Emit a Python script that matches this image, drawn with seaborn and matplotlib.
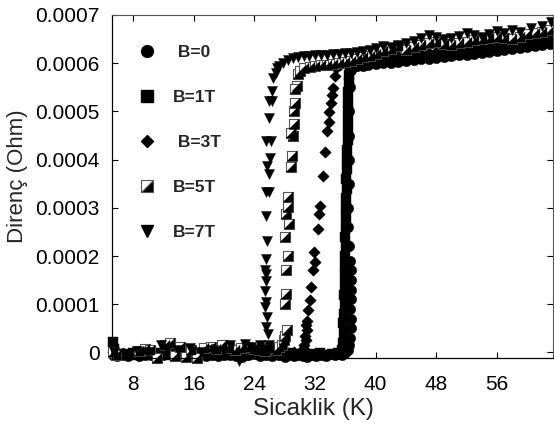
import numpy as np
import pandas as pd
import seaborn as sns
import matplotlib
matplotlib.use("Agg")
import matplotlib.pyplot as plt
from matplotlib.lines import Line2D
from matplotlib.markers import MarkerStyle
from matplotlib.transforms import Affine2D

# ---------------- data (T in K, R in units of 1e-4 Ohm) ----------------
T_b0 = [5.4, 5.9, 6.6, 7.3, 8.0, 8.8, 9.6, 10.4, 11.2, 12.0, 12.8, 13.6, 14.4, 15.2, 16.0,
        16.8, 17.6, 18.4, 19.2, 20.0, 20.8, 21.6, 22.4, 23.2, 24.0, 24.8, 25.6, 26.4, 27.2,
        28.0, 28.6, 29.2, 29.8, 30.4, 31.0, 31.6, 32.2, 32.8, 33.4, 34.0, 34.6, 35.1, 35.6, 36.0,
        36.3, 36.5, 36.6, 36.7, 36.7, 36.6, 36.7, 36.8, 36.75, 36.7, 36.6, 36.5, 36.4, 36.4,
        36.45, 36.5, 36.5, 36.55, 36.6, 36.7, 37.0,
        37.6, 38.3, 39.0, 40.0, 41.0, 42.0, 43.0, 44.0, 45.0, 46.0, 47.0, 48.0, 49.0, 50.0,
        51.0, 52.0, 53.0, 54.0, 55.0, 56.0, 57.0, 58.0, 59.0, 60.0, 61.0, 62.0, 63.0]
R_b0 = [-0.06, -0.08, -0.05, -0.07, -0.04, -0.08, -0.06, -0.05, -0.08, -0.06, -0.04, -0.07, -0.05, -0.08, -0.06,
        -0.04, -0.07, -0.05, -0.08, -0.06, -0.05, -0.07, -0.09, -0.06, -0.04, -0.08, -0.06, -0.07, -0.05,
        -0.09, -0.06, -0.08, -0.05, -0.07, -0.09, -0.06, -0.08, -0.05, -0.07, -0.04, -0.06, -0.03, -0.05, -0.02,
        0.05, 0.15, 0.3, 0.5, 0.7, 0.9, 1.1, 1.3, 1.5, 1.7, 1.9, 2.2, 2.6, 3.0,
        3.5, 4.0, 4.5, 5.0, 5.5, 5.85, 5.92,
        5.94, 5.95, 5.97, 5.98, 6.00, 6.01, 6.03, 6.04, 6.06, 6.08, 6.09, 6.11, 6.13, 6.14,
        6.16, 6.18, 6.19, 6.21, 6.23, 6.25, 6.27, 6.29, 6.31, 6.33, 6.35, 6.37, 6.39]

T_b1 = [5.3, 5.5, 6.0, 6.6, 7.3, 8.0, 8.7, 9.5, 10.3, 11.1, 11.9, 12.7, 13.5, 14.3, 15.1, 15.9,
        16.7, 17.5, 18.3, 19.1, 19.9, 20.7, 21.5, 22.3, 23.1, 23.9, 24.7, 25.5, 26.3, 27.1, 27.9,
        28.7, 29.5, 30.3, 31.1, 31.9, 32.7, 33.5, 34.3, 35.0,
        35.6, 35.7, 35.8, 35.75, 35.8, 35.9, 35.85, 35.9, 36.0, 35.95, 36.0, 36.05, 36.0, 36.1,
        36.1, 36.05, 36.15, 36.2, 36.15, 36.2, 36.25, 36.2, 36.3, 36.3, 36.35, 36.4, 36.35, 36.4,
        36.45, 36.5, 36.6, 36.8, 37.1,
        37.6, 38.3, 39.0, 40.0, 41.0, 42.0, 43.0, 44.0, 45.0, 46.0, 47.0, 48.0, 49.0, 50.0,
        51.0, 52.0, 53.0, 54.0, 55.0, 56.0, 57.0, 58.0, 59.0, 60.0, 61.0, 62.0, 63.0]
R_b1 = [0.22, 0.08, -0.04, -0.03, -0.06, -0.02, -0.05, -0.03, -0.06, -0.02, -0.04, -0.06, -0.03, -0.05, -0.02, -0.06,
        -0.04, -0.03, -0.05, -0.02, -0.06, -0.04, -0.03, -0.05, -0.06, -0.02, -0.04, -0.05, -0.03, -0.06, -0.04,
        -0.02, -0.05, -0.03, -0.06, -0.04, -0.02, -0.05, -0.03, -0.01,
        0.05, 0.2, 0.4, 0.6, 0.8, 1.0, 1.2, 1.4, 1.6, 1.8, 2.0, 2.2, 2.4, 2.6,
        2.8, 3.0, 3.2, 3.4, 3.6, 3.8, 4.0, 4.2, 4.4, 4.6, 4.8, 5.0, 5.2, 5.4,
        5.6, 5.75, 5.85, 5.92, 5.95,
        5.97, 5.99, 6.01, 6.02, 6.04, 6.05, 6.07, 6.08, 6.10, 6.12, 6.13, 6.15, 6.17, 6.18,
        6.20, 6.22, 6.23, 6.25, 6.27, 6.29, 6.31, 6.33, 6.35, 6.37, 6.39, 6.41, 6.43]

T_b3 = [5.4, 6.7, 8.0, 9.5, 11.0, 12.5, 14.0, 15.5, 17.0, 18.5, 20.0, 21.5, 23.0, 24.5, 26.0,
        27.5, 28.5, 29.3, 30.0,
        30.6, 30.7, 30.6, 30.8, 30.7, 30.9, 30.8, 31.0, 31.1, 31.3, 31.5, 31.8, 32.0, 31.9, 32.4,
        32.5, 32.7, 33.0, 33.3, 33.6, 33.8, 33.8, 34.1, 34.2, 34.4, 34.6, 34.8,
        35.3, 36.0, 36.8, 37.6, 38.4, 39.2, 40.0, 41.0, 42.0, 43.0, 44.0, 45.0, 46.0, 47.0, 48.0,
        49.0, 50.0, 51.0, 52.0, 53.0, 54.0, 55.0, 56.0, 57.0, 58.0, 59.0, 60.0, 61.0, 62.0, 63.0]
R_b3 = [0.0, -0.02, 0.0, 0.02, -0.02, 0.0, 0.05, 0.0, 0.03, 0.1, 0.02, 0.05, 0.0, 0.05, 0.02,
        0.0, -0.02, 0.0, 0.0,
        -0.05, 0.05, 0.15, 0.25, 0.35, 0.46, 0.56, 0.66, 0.87, 1.08, 1.35, 1.70, 1.87, 2.08, 2.56,
        2.87, 3.04, 3.66, 4.15, 4.60, 4.77, 4.98, 5.18, 5.35, 5.49, 5.73, 5.90,
        5.97, 6.01, 6.03, 6.05, 6.07, 6.08, 6.10, 6.12, 6.13, 6.15, 6.16, 6.18, 6.20, 6.21, 6.23,
        6.25, 6.26, 6.28, 6.30, 6.31, 6.33, 6.35, 6.37, 6.39, 6.41, 6.43, 6.45, 6.47, 6.49, 6.51]

T_b5 = [5.3, 5.8, 8.8, 9.6, 10.2, 11.1, 12.2, 12.9, 13.5, 14.2, 15.0, 15.6, 16.5, 17.4, 18.3,
        19.0, 19.8, 20.6, 21.5, 22.3, 23.0, 23.8, 24.6, 25.4, 26.0, 26.8, 27.3,
        27.6, 27.9, 28.1, 28.3, 28.1, 28.2, 28.2, 28.4, 28.1, 28.6, 28.2, 28.5, 28.4, 28.9,
        29.0, 29.1, 28.8, 29.2, 29.3, 29.4, 29.6, 29.4, 29.8, 30.0,
        30.6, 31.3, 32.0, 32.8, 33.6, 34.4, 35.2, 36.0, 36.8, 37.6, 38.4, 39.2, 40.0, 41.0, 42.0,
        43.0, 44.0, 45.0, 46.0, 47.0, 48.0, 49.0, 50.0, 51.0, 52.0, 53.0, 54.0, 55.0, 56.0, 57.0,
        58.0, 59.0, 60.0, 61.0, 62.0, 63.0]
R_b5 = [0.0, -0.05, 0.02, 0.08, 0.05, -0.12, 0.15, 0.2, -0.08, 0.12, -0.1, 0.05, -0.12, 0.1, 0.12,
        0.08, 0.15, 0.1, 0.05, 0.1, 0.12, 0.08, 0.05, 0.02, 0.1, 0.05, 0.12,
        0.15, 0.25, 0.35, 0.46, 1.01, 1.22, 1.70, 2.01, 2.39, 2.66, 2.87, 3.01, 3.22, 3.84,
        4.08, 4.49, 4.56, 4.73, 5.01, 5.18, 5.53, 5.46, 5.77, 5.84,
        5.90, 5.93, 5.95, 5.96, 5.97, 5.98, 6.00, 6.02, 6.05, 6.08, 6.12, 6.15, 6.20, 6.25, 6.30,
        6.35, 6.28, 6.33, 6.38, 6.42, 6.45, 6.40, 6.38, 6.42, 6.45, 6.48, 6.50, 6.52, 6.55, 6.53,
        6.50, 6.55, 6.60, 6.62, 6.65, 6.68]

T_b7 = [5.5, 7.0, 8.5, 10.0, 11.7, 12.5, 14.0, 15.5, 17.0, 18.5, 20.0, 20.8, 22.0, 22.8, 23.5,
        24.2, 24.7, 25.0, 25.4,
        26.0, 25.8, 25.6, 25.7, 25.4, 25.6, 25.4, 25.5, 25.6, 25.4, 25.6, 25.7, 25.5, 25.6, 26.0,
        25.9, 25.7, 26.1, 25.5, 26.2, 25.9, 26.0, 26.4, 26.3, 26.5, 26.9, 27.2, 27.8, 27.0, 28.4,
        29.1, 29.8, 30.5, 31.2,
        32.0, 32.8, 33.6, 34.4, 35.2, 36.0, 36.8, 37.6, 38.4, 39.2, 40.0, 41.0, 42.0, 43.0, 44.0,
        45.0, 46.0, 47.0, 48.0, 49.0, 50.0, 51.0, 52.0, 53.0, 54.0, 55.0, 56.0, 57.0, 58.0, 59.0,
        60.5, 62.0, 63.2]
R_b7 = [0.0, -0.03, 0.02, 0.0, 0.15, 0.08, 0.05, 0.1, 0.0, 0.05, 0.03, 0.15, -0.18, 0.18, 0.12,
        0.05, 0.15, 0.08, 0.05,
        0.15, 0.39, 0.52, 0.73, 0.94, 1.04, 1.28, 1.49, 1.63, 1.70, 1.94, 2.32, 2.84, 3.32, 3.32,
        3.70, 3.87, 4.04, 4.39, 4.39, 4.87, 5.22, 5.22, 5.42, 5.70, 5.80, 5.94, 6.01, 5.90, 6.06,
        6.10, 6.12, 6.14, 6.15,
        6.16, 6.17, 6.18, 6.19, 6.20, 6.21, 6.22, 6.24, 6.26, 6.28, 6.32, 6.36, 6.34, 6.38, 6.42,
        6.47, 6.52, 6.58, 6.54, 6.50, 6.52, 6.56, 6.62, 6.58, 6.55, 6.60, 6.66, 6.62, 6.68, 6.65,
        6.72, 6.78, 6.86]

y_ticks = [0, 0.0001, 0.0002, 0.0003, 0.0004, 0.0005, 0.0006, 0.0007]
y_tick_labels = ["0", "0.0001", "0.0002", "0.0003", "0.0004", "0.0005", "0.0006", "0.0007"]
x_ticks = [8, 16, 24, 32, 40, 48, 56]
labels = [" B=0", "B=1T", " B=3T", "B=5T", "B=7T"]

# ---------------- drawing ----------------
sns.set_style("ticks")
plt.rcParams["font.family"] = ["Liberation Sans", "DejaVu Sans"]

fig = plt.figure(figsize=(5.54, 4.30), dpi=100)
ax = fig.add_axes([112 / 554, 72 / 430, 441 / 554, 343 / 430])


def frame(T, R):
    return pd.DataFrame({"T": T, "R": np.asarray(R, dtype=float) * 1e-4})


blk = dict(color="black", edgecolor="black", linewidth=0.3, legend=False, clip_on=False, ax=ax)
sns.scatterplot(data=frame(T_b0, R_b0), x="T", y="R", marker="o", s=56, **blk)
sns.scatterplot(data=frame(T_b1, R_b1), x="T", y="R", marker="s", s=46, **blk)
sns.scatterplot(data=frame(T_b3, R_b3), x="T", y="R", marker="D", s=34, **blk)
# half-filled squares: white square with grey edge + black lower-right triangle
sns.scatterplot(data=frame(T_b5, R_b5), x="T", y="R", marker="s", s=46, color="white",
                edgecolor="#555555", linewidth=0.8, legend=False, clip_on=False, ax=ax)
sns.scatterplot(data=frame(T_b5, R_b5), x="T", y="R", marker=[(-1, -1), (1, -1), (1, 1)], s=46,
                **blk)
sns.scatterplot(data=frame(T_b7, R_b7), x="T", y="R", marker="v", s=52, **blk)

ax.set_xlim(5.23, 63.4)
ax.set_ylim(-0.0000116, 0.0007)
ax.set_xticks(x_ticks)
ax.set_xticklabels([str(v) for v in x_ticks])
ax.set_yticks(y_ticks)
ax.set_yticklabels(y_tick_labels)
ax.tick_params(direction="in", length=4, width=0.8, top=True, right=True, colors="black",
               labelsize=15)
ax.tick_params(axis="x", pad=12)
ax.tick_params(axis="y", pad=9)
for side in ["left", "bottom"]:
    ax.spines[side].set_color("black")
    ax.spines[side].set_linewidth(0.9)
for side in ["top", "right"]:
    ax.spines[side].set_color("#555555")
    ax.spines[side].set_linewidth(0.8)

ax.set_xlabel("Sicaklik (K)", fontsize=17.5, labelpad=3, x=0.456)
ax.set_ylabel("Direnç (Ohm)", fontsize=16, labelpad=5, y=0.53)

half = MarkerStyle("D", fillstyle="right", transform=Affine2D().rotate_deg(-45))
handles = [
    Line2D([], [], marker="o", linestyle="none", color="black", markersize=8.5),
    Line2D([], [], marker="s", linestyle="none", color="black", markersize=8),
    Line2D([], [], marker="D", linestyle="none", color="black", markersize=6.2),
    Line2D([], [], marker=half, linestyle="none", markerfacecolor="black",
           markerfacecoloralt="white", markeredgecolor="#555555", markeredgewidth=0.8,
           markersize=8),
    Line2D([], [], marker="v", linestyle="none", color="black", markersize=8.5),
]
ax.legend(handles, labels, loc="upper left", bbox_to_anchor=(0.06, 0.912), frameon=False,
          prop={"weight": "bold", "size": 12.5}, labelspacing=1.71, handlelength=1.0,
          handletextpad=0.98, borderaxespad=0, borderpad=0)

fig.savefig("out.png", dpi=100)
